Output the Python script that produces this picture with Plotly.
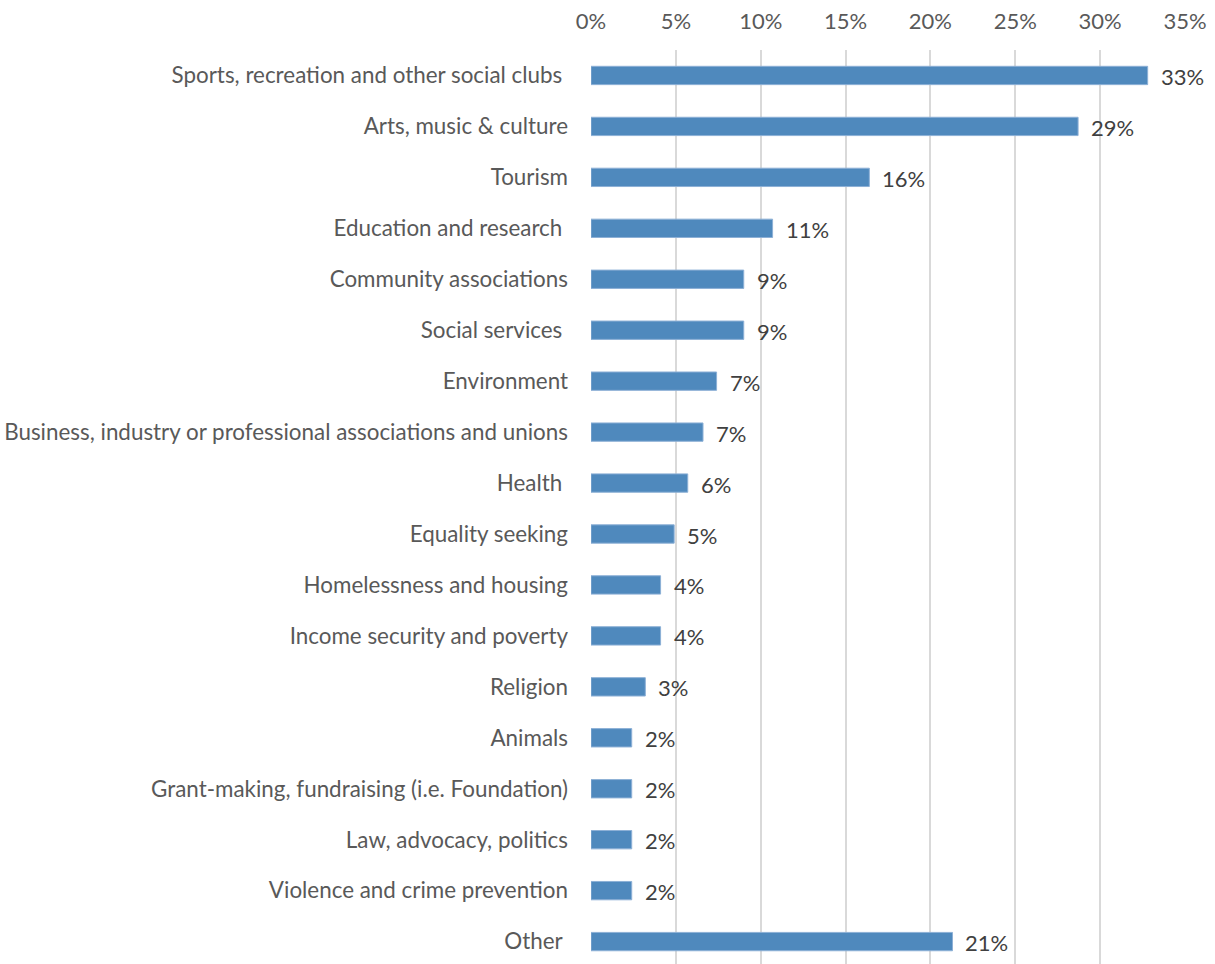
import plotly.graph_objects as go

categories = [
    "Sports, recreation and other social clubs ",
    "Arts, music & culture",
    "Tourism",
    "Education and research ",
    "Community associations",
    "Social services ",
    "Environment",
    "Business, industry or professional associations and unions",
    "Health ",
    "Equality seeking",
    "Homelessness and housing",
    "Income security and poverty",
    "Religion",
    "Animals",
    "Grant-making, fundraising (i.e. Foundation)",
    "Law, advocacy, politics",
    "Violence and crime prevention",
    "Other ",
]
shares = [0.328, 0.287, 0.164, 0.107, 0.090, 0.090, 0.074, 0.066, 0.057,
          0.049, 0.041, 0.041, 0.032, 0.024, 0.024, 0.024, 0.024, 0.213]
x_ticks = [0, 0.05, 0.10, 0.15, 0.20, 0.25, 0.30, 0.35]

FONT = "Lato"

fig = go.Figure(
    go.Bar(
        x=shares,
        y=categories,
        orientation="h",
        marker=dict(color="#4F89BD", line=dict(color="#8DB0D6", width=1)),
        width=0.36,
        hoverinfo="x+y",
    )
)

# value labels to the right of each bar
for cat, val in zip(categories, shares):
    fig.add_annotation(
        x=val, y=cat, text=f"{val:.0%}", showarrow=False,
        xanchor="left", yanchor="middle", xshift=11, yshift=-1,
        font=dict(family=FONT, size=22, color="#404040"),
    )

fig.update_layout(
    width=1215, height=964,
    margin=dict(l=591, r=30, t=50, b=0),
    paper_bgcolor="white", plot_bgcolor="white",
    showlegend=False,
    font=dict(family=FONT, size=22, color="#595959"),
    xaxis=dict(
        side="top", range=[0, 0.35], tickvals=x_ticks, tickformat=".0%",
        showgrid=True, gridcolor="#D9D9D9", gridwidth=2,
        zeroline=False, showline=False, ticks="",
        ticklabelstandoff=16,
    ),
    yaxis=dict(
        type="category", range=[17.44, -0.5],
        showgrid=False, zeroline=False, showline=False, ticks="",
        ticklabelstandoff=22, tickfont=dict(size=22.4),
    ),
)

fig.write_html("out.html")
